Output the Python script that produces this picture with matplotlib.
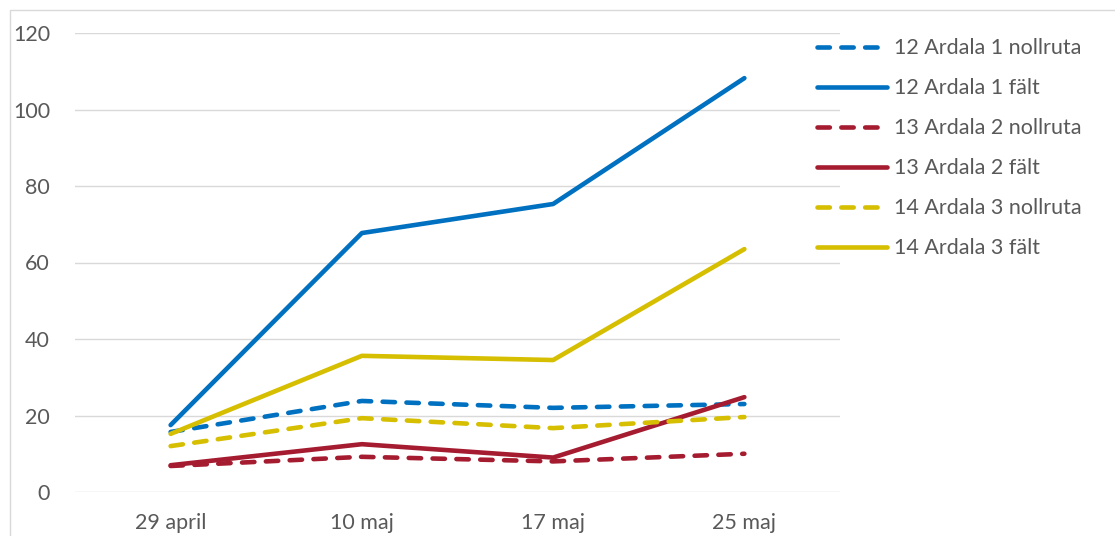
import matplotlib.pyplot as plt
from matplotlib.patches import Rectangle

plt.rcParams['font.family'] = ['Lato', 'DejaVu Sans']

dates = ['29 april', '10 maj', '17 maj', '25 maj']

ardala1_noll = [15.7, 23.8, 22.0, 23.0]
ardala1_falt = [17.5, 67.7, 75.3, 108.2]
ardala2_noll = [6.8, 9.2, 8.0, 10.0]
ardala2_falt = [7.0, 12.5, 9.0, 24.8]
ardala3_noll = [12.0, 19.3, 16.7, 19.6]
ardala3_falt = [15.2, 35.6, 34.5, 63.5]

blue = '#0070C0'
red = '#A51C30'
yellow = '#D6BE00'
text_col = '#595959'

fig = plt.figure(figsize=(11.15, 5.36), dpi=100)
ax = fig.add_axes([75 / 1115, 44 / 536, 765 / 1115, 459 / 536])

x = range(len(dates))
dash = (2.7, 2.5)
series = [
    (ardala1_noll, blue, True, '12 Ardala 1 nollruta'),
    (ardala1_falt, blue, False, '12 Ardala 1 fält'),
    (ardala2_noll, red, True, '13 Ardala 2 nollruta'),
    (ardala2_falt, red, False, '13 Ardala 2 fält'),
    (ardala3_noll, yellow, True, '14 Ardala 3 nollruta'),
    (ardala3_falt, yellow, False, '14 Ardala 3 fält'),
]
handles = []
for vals, col, dashed, lab in series:
    if dashed:
        ln, = ax.plot(x, vals, color=col, lw=3.3, dashes=dash,
                      dash_capstyle='round', solid_capstyle='round', label=lab)
    else:
        ln, = ax.plot(x, vals, color=col, lw=3.3, solid_capstyle='round', label=lab)
    handles.append(ln)

ax.set_xlim(-0.5, 3.5)
ax.set_ylim(0, 120)
ax.set_yticks(range(0, 121, 20))
ax.set_xticks(list(x))
ax.set_xticklabels(dates)
ax.grid(axis='y', color='#D9D9D9', lw=1)
ax.set_axisbelow(True)
for s in ax.spines.values():
    s.set_visible(False)
ax.tick_params(length=0, labelsize=15.5, colors=text_col, pad=15)
ax.tick_params(axis='y', pad=18)

leg = fig.legend(handles=handles, loc='upper left',
                 bbox_to_anchor=(798 / 1115, 1 - 19 / 536),
                 frameon=False, fontsize=15.5, handlelength=3.25,
                 handletextpad=0.3, labelspacing=0.93, labelcolor=text_col)

fig.patches.append(Rectangle((10 / 1115, -0.1), 1.2, (536 - 10) / 536 + 0.1,
                             transform=fig.transFigure, fill=False,
                             edgecolor='#D9D9D9', lw=1))

fig.savefig('out.png', dpi=100)
